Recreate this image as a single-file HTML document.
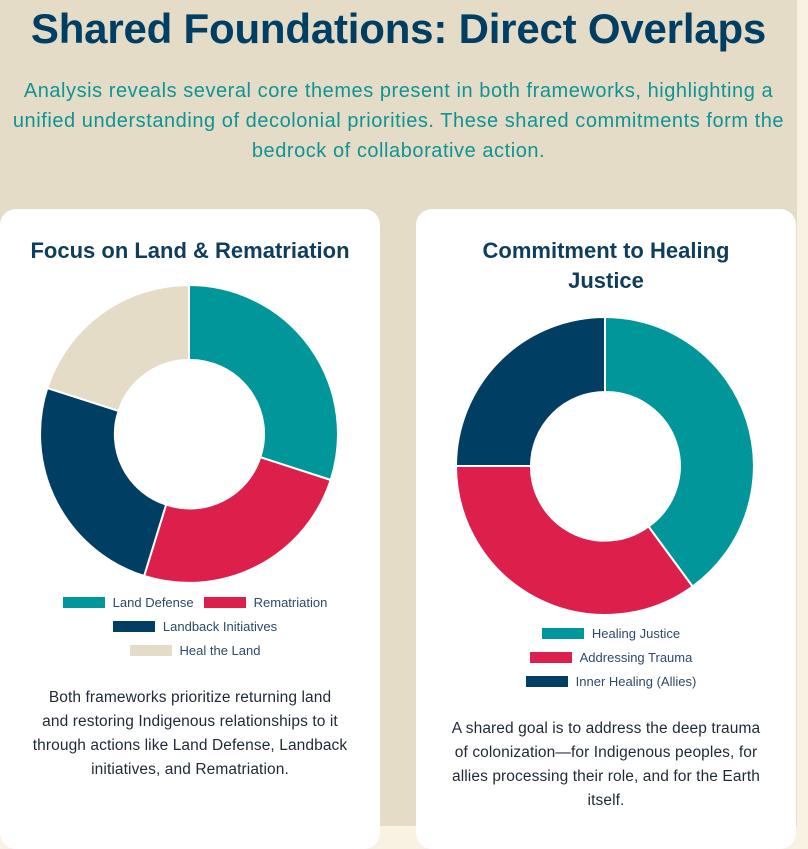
<!DOCTYPE html>
<html><head><meta charset="utf-8"><style>
*{margin:0;padding:0;box-sizing:border-box}
body{width:808px;height:826px;overflow:hidden;background:#f7f2e2;font-family:"Liberation Sans",sans-serif;position:relative}
.bg{position:absolute;left:0;top:0;width:797px;height:826px;background:#e4dcc7}
h1{position:absolute;left:0;width:797px;top:5px;text-align:center;font-size:42px;font-weight:bold;color:#003f63;letter-spacing:-0.2px;white-space:nowrap}
.sub{position:absolute;left:0;width:797px;top:76px;text-align:center;font-size:20px;line-height:30px;color:#0e9494;letter-spacing:0.55px;white-space:nowrap}
.card{position:absolute;background:#fff;border-radius:16px;top:209px;height:640px}
.ct{position:absolute;left:0;right:0;text-align:center;font-size:22px;font-weight:bold;color:#0f3d5c;line-height:30px}
.lg{position:absolute;left:0;right:0;text-align:center;font-size:13px;color:#2c4a6a;height:14px;line-height:14px}
.lg span{display:inline-block;vertical-align:middle}
.sw{width:42px;height:11px;margin:0 8px 0 10px}
.desc{position:absolute;left:0;right:0;text-align:center;font-size:15.5px;line-height:24px;color:#1f2937;white-space:nowrap;letter-spacing:0.1px}
</style></head><body>
<div class="bg"></div>
<h1>Shared Foundations: Direct Overlaps</h1>
<div class="sub">Analysis reveals several core themes present in both frameworks, highlighting a<br>unified understanding of decolonial priorities. These shared commitments form the<br>bedrock of collaborative action.</div>

<div class="card" style="left:0;width:380px">
<div class="ct" style="top:27px">Focus on Land &amp; Rematriation</div>
<svg style="position:absolute;left:0;top:0" width="380" height="420" viewBox="0 209 380 420">
<g stroke="#fff" stroke-width="2">
<path d="M189,285 A149,149 0 0 1 330.7,480 L260.3,457.2 A74,74 0 0 0 189,360 Z" fill="#00969a"/>
<path d="M330.7,480 A149,149 0 0 1 144.1,576 L166.1,504.6 A74,74 0 0 0 260.3,457.2 Z" fill="#dc1f4b"/>
<path d="M144.1,576 A149,149 0 0 1 47.3,388 L118.6,410.9 A74,74 0 0 0 166.1,504.6 Z" fill="#003f63"/>
<path d="M47.3,388 A149,149 0 0 1 189,285 L189,360 A74,74 0 0 0 118.6,410.9 Z" fill="#e4dcc7"/>
</g></svg>
<div class="lg" style="top:386px"><span class="sw" style="background:#00969a"></span><span>Land Defense</span><span class="sw" style="background:#dc1f4b"></span><span>Rematriation</span></div>
<div class="lg" style="top:410px"><span class="sw" style="background:#003f63"></span><span>Landback Initiatives</span></div>
<div class="lg" style="top:434px"><span class="sw" style="background:#e4dcc7"></span><span>Heal the Land</span></div>
<div class="desc" style="top:477px">Both frameworks prioritize returning land<br>and restoring Indigenous relationships to it<br>through actions like Land Defense, Landback<br>initiatives, and Rematriation.</div>
</div>

<div class="card" style="left:416px;width:380px">
<div class="ct" style="top:27px">Commitment to Healing<br>Justice</div>
<svg style="position:absolute;left:0;top:0" width="380" height="420" viewBox="416 209 380 420">
<g stroke="#fff" stroke-width="2">
<path d="M605,317 A149,149 0 0 1 692.6,586.5 L648.5,526.5 A74,74 0 0 0 605,392 Z" fill="#00969a"/>
<path d="M692.6,586.5 A149,149 0 0 1 456,466 L531,466 A74,74 0 0 0 648.5,526.5 Z" fill="#dc1f4b"/>
<path d="M456,466 A149,149 0 0 1 605,317 L605,392 A74,74 0 0 0 531,466 Z" fill="#003f63"/>
</g></svg>
<div class="lg" style="top:417px"><span class="sw" style="background:#00969a"></span><span>Healing Justice</span></div>
<div class="lg" style="top:441px"><span class="sw" style="background:#dc1f4b"></span><span>Addressing Trauma</span></div>
<div class="lg" style="top:465px"><span class="sw" style="background:#003f63"></span><span>Inner Healing (Allies)</span></div>
<div class="desc" style="top:508px">A shared goal is to address the deep trauma<br>of colonization—for Indigenous peoples, for<br>allies processing their role, and for the Earth<br>itself.</div>
</div>
</body></html>
